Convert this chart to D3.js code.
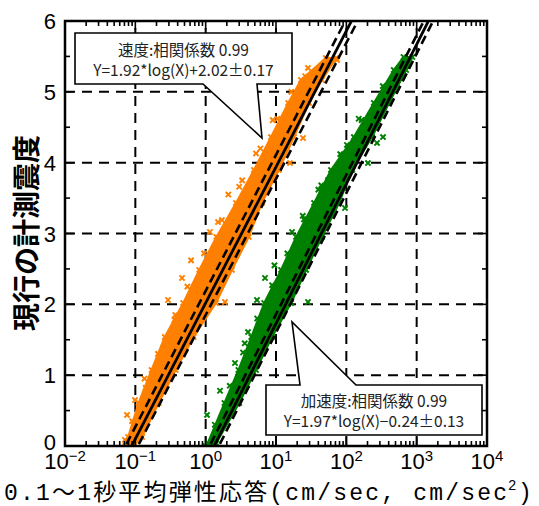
<!DOCTYPE html>
<html><head><meta charset="utf-8">
<script src="https://cdn.jsdelivr.net/npm/d3@7"></script>
<style>
body{margin:0;background:#fff;}
svg{display:block;}
</style></head>
<body>
<svg id="chart" width="539" height="506"></svg>
<script>
// ---------------- data ----------------
const xTickExps = [-2, -1, 0, 1, 2, 3, 4];
const yTickValues = [0, 1, 2, 3, 4, 5, 6];

// velocity (orange): dense band envelope
const velBandY  = [0, 0.127, 0.607, 1.073, 1.539, 2.019, 2.485, 2.951, 3.431, 3.897, 4.362, 4.843, 5.167, 5.478];
const velBandLo = [0.072, 0.0790, 0.111, 0.170, 0.262, 0.480, 0.810, 1.42, 2.70, 4.85, 8.50, 14.9, 22.6, 51];
const velBandHi = [0.0940, 0.1250, 0.2150, 0.375, 0.675, 1.40, 2.36, 4.10, 6.30, 11.0, 18.0, 29.5, 45.0, 72];
// velocity sparse points
const velOutX = [0.0713, 0.0762, 0.0989, 0.247, 0.292, 0.461, 1.15, 1.50, 1.88, 15.8, 24.2, 28.5, 46.6, 73.8, 0.135, 0.37, 0.62, 2.1, 3.3, 6.0, 10.5, 0.09, 0.14, 0.21, 0.36, 0.55, 0.95, 1.7, 3.0, 5.2, 9.0, 16.5, 26];
const velOutY = [0.085, 0.438, 0.649, 1.384, 2.061, 2.372, 3.021, 3.162, 2.033, 3.995, 4.348, 5.337, 5.308, 5.45, 0.95, 1.85, 2.62, 3.55, 3.75, 4.20, 4.62, 0.35, 0.82, 1.30, 1.78, 2.25, 2.72, 3.19, 3.66, 4.13, 4.60, 5.00, 5.22];

// acceleration (green): dense band envelope
const accBandY  = [0, 0.042, 0.607, 1.073, 1.539, 2.019, 2.485, 2.951, 3.431, 3.897, 4.362, 4.843, 5.308, 5.492];
const accBandLo = [1.00, 1.07, 1.85, 2.92, 4.45, 6.80, 11.8, 19.3, 34.8, 60.5, 128, 246, 472, 650];
const accBandHi = [1.30, 1.42, 3.00, 5.20, 8.80, 16.4, 26.8, 45.0, 79.0, 121, 232, 405, 710, 870];
// acceleration sparse points
const accOutX = [1.045, 2.61, 4.00, 5.37, 6.98, 16.9, 28.5, 54.9, 102, 203, 332, 273, 95.7, 640, 1.6, 3.6, 9.5, 24, 40, 150, 1.35, 2.2, 3.4, 5.4, 8.8, 14.5, 25, 44, 82, 165, 330];
const accOutY = [0.438, 1.172, 1.609, 2.061, 2.372, 3.021, 2.033, 3.755, 4.25, 3.995, 4.362, 4.278, 3.36, 5.407, 0.78, 1.45, 2.55, 3.25, 3.62, 4.62, 0.30, 0.85, 1.32, 1.80, 2.27, 2.72, 3.20, 3.68, 4.12, 4.60, 5.08];

// regression: Y = a*log(X) + b ± e
const velFit = {a: 1.92, b: 2.02, e: 0.17};
const accFit = {a: 1.97, b: -0.24, e: 0.13};

const velLabel = ["速度:相関係数 0.99", "Y=1.92*log(X)+2.02±0.17"];
const accLabel = ["加速度:相関係数 0.99", "Y=1.97*log(X)−0.24±0.13"];
const xTitleMain = "0.1～1秒平均弾性応答(cm/sec, cm/sec";
const xTitleSup = "2";
const xTitleEnd = ")";
const yTitle = "現行の計測震度";

// ---------------- layout ----------------
const L = 65, R = 487, T = 21, B = 446;
const ORANGE = "#ff8000", GREEN = "#008000";
const svg = d3.select("#chart");
svg.append("rect").attr("width", 539).attr("height", 506).attr("fill", "#fff");

const x = d3.scaleLog().domain([1e-2, 1e4]).range([L, R]);
const y = d3.scaleLinear().domain([0, 6]).range([B, T]);

svg.append("defs").append("clipPath").attr("id", "plotclip")
  .append("rect").attr("x", L).attr("y", T).attr("width", R - L).attr("height", B - T);

// grid
const grid = svg.append("g").attr("stroke", "#000").attr("stroke-width", 2).attr("stroke-dasharray", "10,7");
[1e-1, 1e0, 1e1, 1e2, 1e3].forEach(v => {
  grid.append("line").attr("x1", x(v)).attr("x2", x(v)).attr("y1", B).attr("y2", T);
});
[1, 2, 3, 4, 5].forEach(v => {
  grid.append("line").attr("x1", L).attr("x2", R).attr("y1", y(v)).attr("y2", y(v));
});

const plot = svg.append("g").attr("clip-path", "url(#plotclip)");

function drawSeries(bandY, lo, hi, outX, outY, color) {
  const band = bandY.map((v, i) => ({y: v, lo: lo[i], hi: hi[i]}));
  const area = d3.area().y(d => y(d.y)).x0(d => x(d.lo)).x1(d => x(d.hi));
  plot.append("path").datum(band).attr("d", area).attr("fill", color)
    .attr("stroke", color).attr("stroke-width", 2).attr("stroke-linejoin", "round");
  const pts = [];
  band.forEach(d => { pts.push([d.lo, d.y]); pts.push([d.hi, d.y]); });
  outX.forEach((v, i) => pts.push([v, outY[i]]));
  plot.append("g").selectAll("path").data(pts).join("path")
    .attr("d", "M-2.6,-2.6L2.6,2.6M-2.6,2.6L2.6,-2.6")
    .attr("transform", d => `translate(${x(d[0])},${y(d[1])})`)
    .attr("stroke", color).attr("stroke-width", 2).attr("fill", "none");
}
drawSeries(velBandY, velBandLo, velBandHi, velOutX, velOutY, ORANGE);
drawSeries(accBandY, accBandLo, accBandHi, accOutX, accOutY, GREEN);

function drawFit(f) {
  const ys = [-0.5, 6.5];
  const line = off => d3.line().x(v => x(Math.pow(10, (v - f.b - off) / f.a))).y(v => y(v))(ys);
  plot.append("path").attr("d", line(0)).attr("stroke", "#000").attr("stroke-width", 2.8).attr("fill", "none");
  [f.e, -f.e].forEach(o => {
    plot.append("path").attr("d", line(o)).attr("stroke", "#000").attr("stroke-width", 2.6)
      .attr("stroke-dasharray", "9,5").attr("fill", "none");
  });
}
drawFit(velFit);
drawFit(accFit);

// callouts
function callout(pts, lines, cx, baselines) {
  svg.append("path").attr("d", d3.line()(pts) + "Z").attr("fill", "#fff")
    .attr("stroke", "#000").attr("stroke-width", 1.6);
  lines.forEach((t, i) => {
    svg.append("text").attr("x", cx).attr("y", baselines[i]).attr("text-anchor", "middle")
      .attr("font-family", "'Noto Sans CJK JP', sans-serif").attr("font-size", 15.5)
      .attr("fill", "#222").text(t);
  });
}
callout([[75,33],[292,33],[292,84],[257,84],[262,138],[203,84],[75,84]], velLabel, 183.5, [56, 76]);
callout([[266,385],[300,385],[292,322],[356,385],[482,385],[482,435],[266,435]], accLabel, 374, [407, 427]);

// frame
svg.append("rect").attr("x", L).attr("y", T).attr("width", R - L).attr("height", B - T)
  .attr("fill", "none").attr("stroke", "#000").attr("stroke-width", 2.5);

// ticks
const tk = svg.append("g").attr("stroke", "#000").attr("stroke-width", 1.6);
for (let e = -2; e < 4; e++) {
  for (let m = 1; m <= 9; m++) {
    const v = m * Math.pow(10, e);
    const len = m === 1 ? 9 : 5;
    tk.append("line").attr("x1", x(v)).attr("x2", x(v)).attr("y1", B).attr("y2", B - len);
    tk.append("line").attr("x1", x(v)).attr("x2", x(v)).attr("y1", T).attr("y2", T + len);
  }
}
for (let v = 0; v <= 6; v += 0.5) {
  const len = Number.isInteger(v) ? 9 : 5;
  tk.append("line").attr("x1", L).attr("x2", L + len).attr("y1", y(v)).attr("y2", y(v));
  tk.append("line").attr("x1", R).attr("x2", R - len).attr("y1", y(v)).attr("y2", y(v));
}

// tick labels
const numFont = "'Liberation Sans Narrow', 'Arial Narrow', 'Liberation Sans', sans-serif";
yTickValues.forEach(v => {
  svg.append("text").attr("x", 56).attr("y", y(v) + (v === 0 ? 4 : 8)).attr("text-anchor", "end")
    .attr("font-family", numFont).attr("font-size", 22).attr("fill", "#000").text(v);
});
xTickExps.forEach(e => {
  const t = svg.append("text").attr("x", x(Math.pow(10, e))).attr("y", 469).attr("text-anchor", "middle")
    .attr("font-family", numFont).attr("font-size", 22).attr("fill", "#000");
  t.append("tspan").text("10");
  t.append("tspan").attr("dy", -8).attr("font-size", 15).text(e < 0 ? "−" + (-e) : String(e));
});

// axis titles
const titleFont = "'Liberation Mono', 'Noto Sans CJK JP', monospace";
svg.append("text").attr("x", 4).attr("y", 500)
  .attr("font-family", titleFont).attr("font-size", 23).attr("fill", "#000")
  .attr("textLength", 503).attr("lengthAdjust", "spacing").text(xTitleMain);
svg.append("text").attr("x", 508).attr("y", 490)
  .attr("font-family", titleFont).attr("font-size", 14).attr("fill", "#000").text(xTitleSup);
svg.append("text").attr("x", 518).attr("y", 500)
  .attr("font-family", titleFont).attr("font-size", 23).attr("fill", "#000").text(xTitleEnd);

svg.append("text").attr("transform", "translate(37,233) rotate(-90)").attr("text-anchor", "middle")
  .attr("font-family", "'Noto Sans CJK JP', sans-serif").attr("font-weight", "bold")
  .attr("font-size", 28).attr("fill", "#000").text(yTitle);
</script>
</body></html>
